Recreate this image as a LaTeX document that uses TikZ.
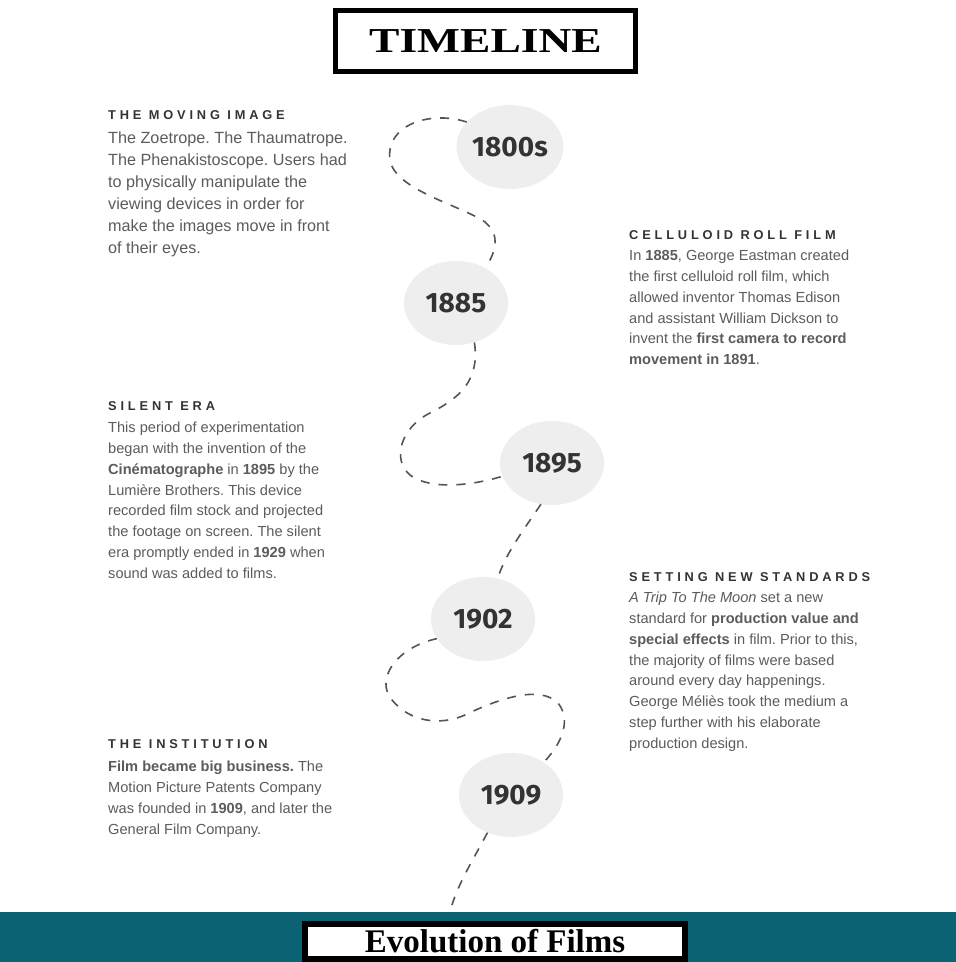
\documentclass[tikz,border=0pt]{standalone}
\usepackage{fontspec}
\setmainfont{Liberation Sans}
\newfontfamily\tlserif{Liberation Serif}
\newfontfamily\tlstretch[FakeStretch=1.3]{Liberation Serif}
\newfontfamily\tlyearface{Fira Sans}
\usetikzlibrary{positioning,shapes.geometric}
\frenchspacing
\definecolor{tlink}  {HTML}{333333}
\definecolor{tlgrey} {HTML}{5C5C5C}
\definecolor{tlfog}  {HTML}{EEEEEE}
\definecolor{tldash} {HTML}{555555}
\definecolor{tlteal} {HTML}{0A6272}
\newcommand\tlheadfont{\fontsize{12.8}{14}\selectfont\bfseries\addfontfeature{LetterSpace=30}}
\newcommand\tlbigbody{\fontsize{16.2}{22}\selectfont}
\newcommand\tlbody{\fontsize{14.6}{20.8}\selectfont}
\tikzset{
  tlyear/.style={ellipse, fill=tlfog, minimum width=104pt, minimum height=84pt,
                 inner sep=0pt, text=tlink, font=\tlyearface\bfseries\fontsize{28}{30}\selectfont},
  tlhead/.style={anchor=north west, inner sep=0pt, text=tlink, font=\tlheadfont},
  tltext/.style={anchor=north west, inner sep=0pt, align=left, text=tlgrey, font=\tlbody},
  tlpath/.style={draw=tldash, line width=1.6pt, dash pattern=on 9pt off 9pt},
  tlbox/.style={draw=black, fill=white, inner sep=0pt},
}

\begin{document}
\begin{tikzpicture}[x=1pt,y=-1pt]
  \useasboundingbox[fill=white] (0,0) rectangle (956,962);
  % title
  \node[tlbox, line width=5pt, minimum width=300pt, minimum height=61pt,
        font=\tlstretch\bfseries\fontsize{35}{38}\selectfont] (title) at (485.5,41) {TIMELINE};
  % years
  \node[tlyear] (y1800) at (510,147) {1800s};
  \node[tlyear] (y1885) at (456,303) {1885};
  \node[tlyear] (y1895) at (552,463) {1895};
  \node[tlyear] (y1902) at (483,619) {1902};
  \node[tlyear] (y1909) at (511,795) {1909};
  % texts
  \node[tlhead] (h1) at (108,110) {THE MOVING IMAGE};
  \node[tltext, font=\tlbigbody] (t1) at (108,132) {The Zoetrope. The Thaumatrope.\\
    The Phenakistoscope. Users had\\to physically manipulate the\\
    viewing devices in order for\\make the images move in front\\of their eyes.};
  \node[tlhead] (h2) at (629,230) {CELLULOID ROLL FILM};
  \node[tltext] (t2) at (629,250) {In \textbf{1885}, George Eastman created\\
    the first celluloid roll film, which\\allowed inventor Thomas Edison\\
    and assistant William Dickson to\\invent the \textbf{first camera to record}\\
    \textbf{movement in 1891}.};
  \node[tlhead] (h3) at (108,401) {SILENT ERA};
  \node[tltext] (t3) at (108,422) {This period of experimentation\\
    began with the invention of the\\\textbf{Cinématographe} in \textbf{1895} by the\\
    Lumière Brothers. This device\\recorded film stock and projected\\
    the footage on screen. The silent\\era promptly ended in \textbf{1929} when\\
    sound was added to films.};
  \node[tlhead] (h4) at (629,572) {SETTING NEW STANDARDS};
  \node[tltext] (t4) at (629,592) {\textit{A Trip To The Moon} set a new\\
    standard for \textbf{production value and}\\\textbf{special effects} in film. Prior to this,\\
    the majority of films were based\\around every day happenings.\\
    George Méliès took the medium a\\step further with his elaborate\\production design.};
  \node[tlhead] (h5) at (108,739) {THE INSTITUTION};
  \node[tltext] (t5) at (108,761) {\textbf{Film became big business.} The\\
    Motion Picture Patents Company\\was founded in \textbf{1909}, and later the\\
    General Film Company.};
  % dashed route
  \draw[tlpath] (y1800.150) .. controls (430,110) and (385,125) .. (390,160)
    .. controls (395,190) and (460,205) .. (485,222)
    .. controls (500,235) and (497,250) .. (y1885.50);
  \draw[tlpath] (y1885.-65) .. controls (480,380) and (460,398) .. (430,413)
    .. controls (400,428) and (392,460) .. (410,475)
    .. controls (430,490) and (470,486) .. (y1895.195);
  \draw[tlpath] (y1895.-105) .. controls (520,535) and (505,555) .. (y1902.70);
  \draw[tlpath] (y1902.203) .. controls (395,648) and (375,680) .. (392,700)
    .. controls (410,722) and (440,726) .. (465,715)
    .. controls (500,698) and (540,685) .. (558,703)
    .. controls (570,718) and (565,740) .. (y1909.45);
  \coordinate (tail) at (452,905);
  \draw[tlpath] (y1909.-122) .. controls (470,865) and (458,885) .. (tail);
  % footer
  \fill[tlteal] (0,912) rectangle (956,962);
  \node[tlbox, line width=6pt, minimum width=380pt, minimum height=35pt,
        font=\tlserif\bfseries\fontsize{33}{35}\selectfont] (foot) at (495,941.5) {Evolution of Films};
\end{tikzpicture}
\end{document}
